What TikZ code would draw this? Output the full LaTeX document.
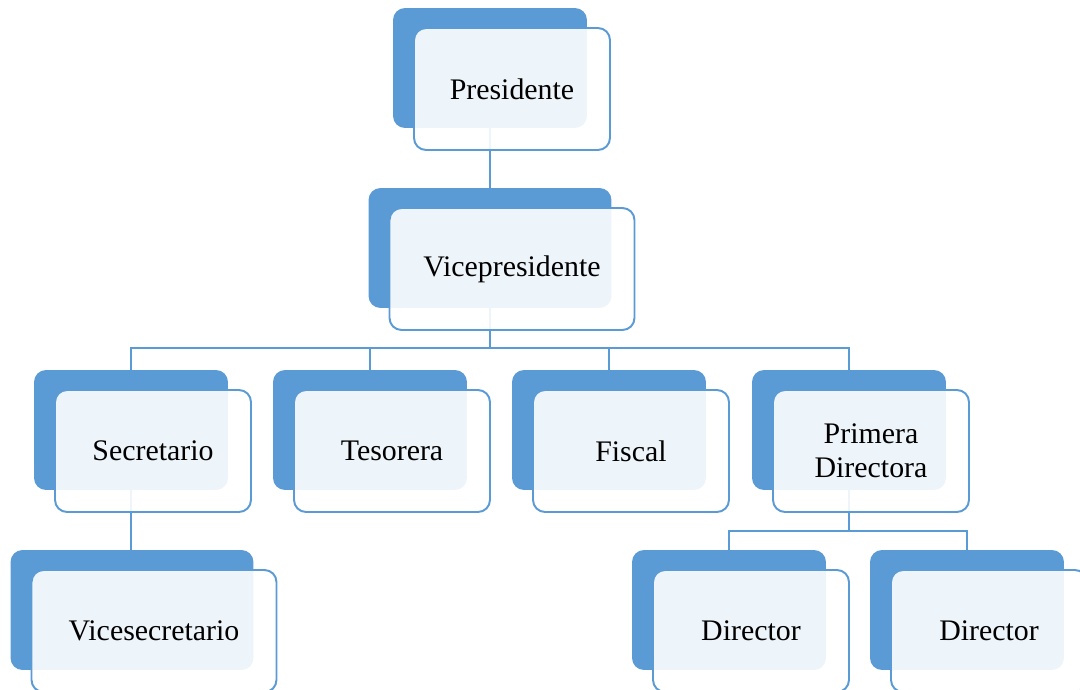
\documentclass[tikz,border=0pt]{standalone}
\usepackage{fontspec}
\setmainfont{Liberation Serif}
\usetikzlibrary{positioning,calc}
\definecolor{orgblue}{HTML}{5B9BD5}

\begin{document}
\begin{tikzpicture}[
    x=0.02cm, y=-0.02cm,
    backbox/.style={rectangle, rounded corners=0.24cm, fill=orgblue, minimum width=3.88cm, minimum height=2.4cm, inner sep=0pt},
    backwide/.style={backbox, minimum width=4.86cm},
    frontbox/.style={rectangle, rounded corners=0.24cm, draw=orgblue, line width=1.1pt, fill=white, fill opacity=0.9, text opacity=1, minimum width=3.92cm, minimum height=2.44cm, inner sep=2pt, align=center, font=\fontsize{17}{19.5}\selectfont},
    frontwide/.style={frontbox, minimum width=4.9cm},
    link/.style={draw=orgblue, line width=1.1pt}
]
    \useasboundingbox (0,0) rectangle (1080,690);

    % Back boxes
    \node[backbox] (presb) at (490,68) {};
    \node[backwide] (viceb) at (490,248) {};
    \node[backbox] (secb) at (131,430) {};
    \node[backbox] (tesb) at (370,430) {};
    \node[backbox] (fisb) at (609,430) {};
    \node[backbox] (dirab) at (849,430) {};
    \node[backwide] (vsecb) at (132,610) {};
    \node[backbox] (dir1b) at (729,610) {};
    \node[backbox] (dir2b) at (967,610) {};

    % Connectors
    \coordinate (bar1) at (490,348);
    \coordinate (bar2) at (849,531);
    \draw[link] (presb.south) -- (viceb.north);
    \draw[link] (viceb.south) -- (bar1);
    \foreach \n in {secb,tesb,fisb,dirab}
        \draw[link] (bar1) -| (\n.north);
    \draw[link] (secb.south) -- (secb.south |- vsecb.north);
    \draw[link] (dirab.south) -- (bar2);
    \foreach \n in {dir1b,dir2b}
        \draw[link] (bar2) -| (\n.north);

    % Front boxes
    \node[frontbox] (pres) at ([shift={(22,21)}]presb) {Presidente};
    \node[frontwide] (vice) at ([shift={(22,21)}]viceb) {Vicepresidente};
    \node[frontbox] (sec) at ([shift={(22,21)}]secb) {Secretario};
    \node[frontbox] (tes) at ([shift={(22,21)}]tesb) {Tesorera};
    \node[frontbox] (fis) at ([shift={(22,21)}]fisb) {Fiscal};
    \node[frontbox] (dira) at ([shift={(22,21)}]dirab) {Primera\\Directora};
    \node[frontwide] (vsec) at ([shift={(22,21)}]vsecb) {Vicesecretario};
    \node[frontbox] (dir1) at ([shift={(22,21)}]dir1b) {Director};
    \node[frontbox] (dir2) at ([shift={(22,21)}]dir2b) {Director};
\end{tikzpicture}
\end{document}
